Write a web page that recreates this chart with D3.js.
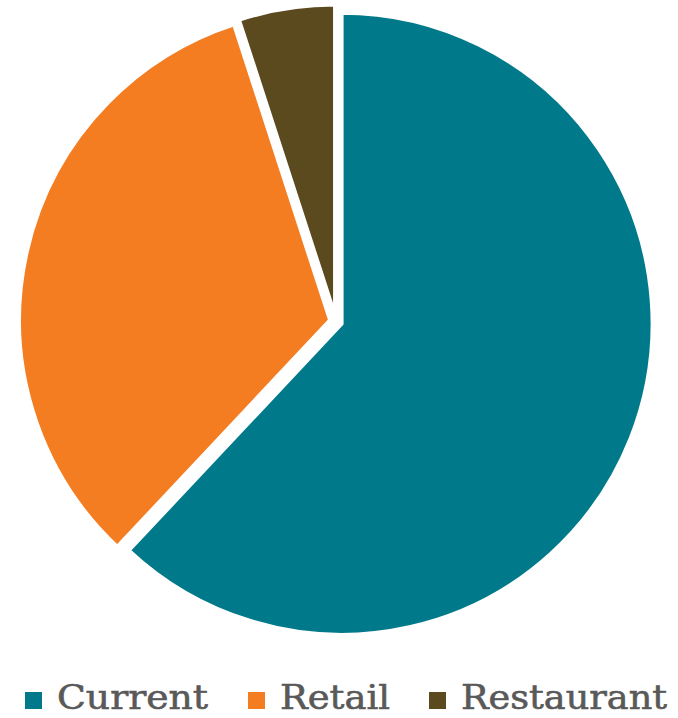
<!DOCTYPE html>
<html>
<head>
<meta charset="utf-8">
<script src="https://cdn.jsdelivr.net/npm/d3@7"></script>
<style>
  html, body { margin: 0; padding: 0; background: #ffffff; }
  svg { display: block; }
</style>
</head>
<body>
<svg id="chart" width="678" height="718"></svg>
<script>
const categories = ["Current", "Retail", "Restaurant"];
const values = [62, 33, 5];
const colors = ["#007A8A", "#F47C21", "#5B4A1E"];

const svg = d3.select("#chart");
const cx = 336, cy = 321.5, radius = 311, explode = 6;

const pie = d3.pie().sort(null).value(d => d.value).startAngle(0).endAngle(2 * Math.PI);
const arc = d3.arc().innerRadius(0).outerRadius(radius);

const data = categories.map((c, i) => ({ name: c, value: values[i], color: colors[i] }));

const g = svg.append("g").attr("transform", `translate(${cx},${cy})`);
g.selectAll("path")
  .data(pie(data))
  .join("path")
  .attr("d", arc)
  .attr("fill", d => d.data.color)
  .attr("stroke", "#ffffff")
  .attr("stroke-width", 4)
  .attr("transform", d => {
    const mid = (d.startAngle + d.endAngle) / 2;
    return `translate(${Math.sin(mid) * explode},${-Math.cos(mid) * explode})`;
  });

// Legend
const legendX = [25, 248, 429];
const textWidths = [151, 110, 206];
const legend = svg.append("g");
const items = legend.selectAll("g")
  .data(data)
  .join("g")
  .attr("transform", (d, i) => `translate(${legendX[i]},0)`);
items.append("rect")
  .attr("x", 0).attr("y", 692)
  .attr("width", 17).attr("height", 17)
  .attr("fill", d => d.color);
items.append("text")
  .attr("x", 32).attr("y", 709)
  .attr("font-family", "'DejaVu Serif', serif")
  .attr("font-size", 34)
  .attr("fill", "#595959")
  .attr("stroke", "#595959")
  .attr("stroke-width", 0.6)
  .attr("textLength", (d, i) => textWidths[i])
  .attr("lengthAdjust", "spacingAndGlyphs")
  .text(d => d.name);
</script>
</body>
</html>
